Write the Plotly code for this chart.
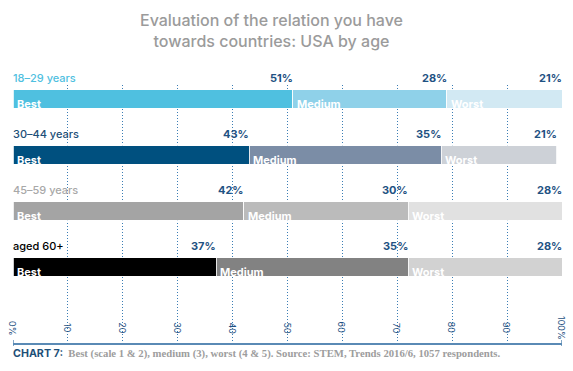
import plotly.graph_objects as go

groups = ["18–29 years", "30–44 years", "45–59 years", "aged 60+"]
best = [51, 43, 42, 37]
medium = [28, 35, 30, 35]
worst = [21, 21, 28, 28]
segment_names = ["Best", "Medium", "Worst"]
tick_vals = [0, 10, 20, 30, 40, 50, 60, 70, 80, 90, 100]
tick_text = ["0%", "10", "20", "30", "40", "50", "60", "70", "80", "90", "100%"]

best_colors = ["#4fc0e0", "#00507f", "#a4a4a4", "#000000"]
medium_colors = ["#8fd1e9", "#7b8da6", "#bbbbbb", "#828282"]
worst_colors = ["#d2e9f3", "#cdd1d7", "#e1e1e1", "#d2d2d2"]
group_label_colors = ["#4fc0e0", "#1d4f78", "#a8a8a8", "#000000"]

SANS = "Inter, Lato, Open Sans, sans-serif"
BLUE = "#1f5283"
PLOT_H = 371 - 85 - 28
PLOT_W = 573 - 13 - 11

fig = go.Figure()
series = [best, medium, worst]
colors = [best_colors, medium_colors, worst_colors]
for name, vals, cols in zip(segment_names, series, colors):
    fig.add_trace(go.Bar(
        y=groups, x=vals, name=name, orientation="h",
        marker=dict(color=cols, line=dict(color="white", width=0.8)),
        width=0.33, hoverinfo="x+y+name",
    ))

annotations = []
for i, g in enumerate(groups):
    annotations.append(dict(
        x=0, y=g, xref="x", yref="y", text=g, showarrow=False,
        xanchor="left", yanchor="middle", yshift=21, xshift=-2,
        font=dict(family=SANS, size=11, color=group_label_colors[i], weight=500),
    ))
    start = 0
    for name, vals in zip(segment_names, series):
        end = start + vals[i]
        annotations.append(dict(
            x=end, y=g, xref="x", yref="y", text=f"<b>{vals[i]}%</b>",
            showarrow=False, xanchor="right", yanchor="middle", yshift=21, xshift=2,
            font=dict(family=SANS, size=11, color=BLUE),
        ))
        annotations.append(dict(
            x=start, y=g, xref="x", yref="y", text=f"<b>{name}</b>",
            showarrow=False, xanchor="left", yanchor="middle", yshift=-5, xshift=2,
            font=dict(family=SANS, size=11, color="white"),
        ))
        start = end

# rotated tick labels
for tv, tt in zip(tick_vals, tick_text):
    annotations.append(dict(
        x=tv, y=15 / PLOT_H, xref="x", yref="paper", text=tt, textangle=90,
        showarrow=False, xanchor="center", yanchor="middle",
        font=dict(family=SANS, size=9, color=BLUE),
    ))

annotations.append(dict(
    x=(271 - 13) / PLOT_W, y=1 + (85 - 8) / PLOT_H, xref="paper", yref="paper",
    xanchor="center", yanchor="top",
    text="Evaluation of the relation you have<br>towards countries: USA by age",
    showarrow=False,
    font=dict(family=SANS, size=16, color="#9b9b9b", weight=500),
))
annotations.append(dict(
    x=0, y=-(353 - 343) / PLOT_H, xref="paper", yref="paper", xanchor="left", yanchor="middle",
    text="<span style='font-family:Inter, Lato, sans-serif; color:#1d4f78'><b>CHART 7:</b></span>"
         "  <b>Best (scale 1 &amp; 2), medium (3), worst (4 &amp; 5). Source: STEM, Trends 2016/6, 1057 respondents.</b>",
    showarrow=False, xshift=-2,
    font=dict(family="Liberation Serif, DejaVu Serif, serif", size=10.7, color="#9d9d9d"),
))

shapes = []
for xv in [0, 100]:
    shapes.append(dict(type="line", xref="x", yref="paper", x0=xv, x1=xv, y0=-0.012, y1=0.012,
                       line=dict(color="#5a8ab5", width=1.5)))

fig.update_layout(
    width=573, height=371,
    margin=dict(l=13, r=11, t=85, b=28, autoexpand=False),
    barmode="stack", bargap=0.5,
    showlegend=False,
    plot_bgcolor="white", paper_bgcolor="white",
    annotations=annotations, shapes=shapes,
    xaxis=dict(
        range=[0, 100], tickvals=tick_vals, showticklabels=False,
        showgrid=True, gridcolor="#3a7db5", griddash="1px,2px", gridwidth=1,
        zeroline=False, showline=True, linecolor="#5a8ab5", linewidth=2,
        ticks="", fixedrange=True, automargin=False,
    ),
    yaxis=dict(
        categoryorder="array", categoryarray=groups,
        range=[3 + 1.357, -0.25], showticklabels=False, showgrid=False,
        zeroline=False, showline=False, automargin=False,
    ),
)

fig.write_html(
    "out.html",
    config={"displayModeBar": False},
    post_script="document.body.style.margin='0';document.body.style.overflow='hidden';",
)
